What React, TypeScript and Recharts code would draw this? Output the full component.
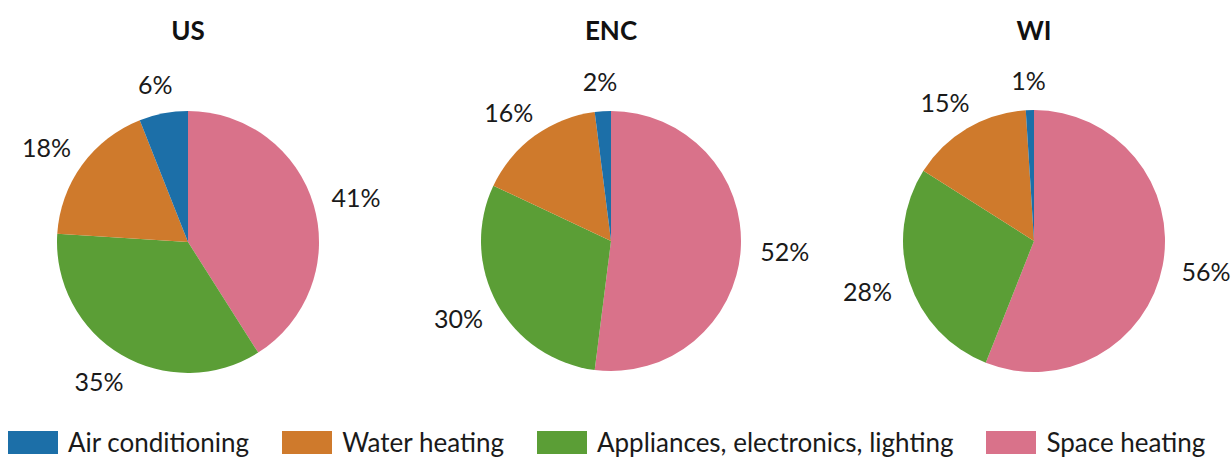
import { PieChart, Pie, Cell, Legend } from 'recharts';

// ─── Data ────────────────────────────────────────────────────────────────────

const CATEGORIES = ['Space heating', 'Appliances, electronics, lighting', 'Water heating', 'Air conditioning'];
const LEGEND_ORDER = ['Air conditioning', 'Water heating', 'Appliances, electronics, lighting', 'Space heating'];

const US_SHARE = [41, 35, 18, 6];
const ENC_SHARE = [52, 30, 16, 2];
const WI_SHARE = [56, 28, 15, 1];

const REGIONS = ['US', 'ENC', 'WI'];

const COLORS: Record<string, string> = {
  'Space heating': '#d9728a',
  'Appliances, electronics, lighting': '#5b9e36',
  'Water heating': '#cf7a2c',
  'Air conditioning': '#1c6fa8',
};

const FONT = 'Lato, "Open Sans", sans-serif';

const toRows = (shares: number[]) => CATEGORIES.map((name, i) => ({ name, value: shares[i] }));

// ─── Layout ──────────────────────────────────────────────────────────────────

const WIDTH = 1232;
const HEIGHT = 459;
const PIES = [
  { title: REGIONS[0], data: toRows(US_SHARE), cx: 188, cy: 242, r: 131 },
  { title: REGIONS[1], data: toRows(ENC_SHARE), cx: 611, cy: 241, r: 130 },
  { title: REGIONS[2], data: toRows(WI_SHARE), cx: 1034, cy: 241, r: 131 },
];

const RAD = Math.PI / 180;

// percent label pushed outward so its box sits just outside the slice
function renderPercent(props: any) {
  const { cx, cy, midAngle, outerRadius, value } = props;
  const dx = Math.cos(-midAngle * RAD);
  const dy = Math.sin(-midAngle * RAD);
  const px = cx + (outerRadius + 17) * dx;
  const py = cy + (outerRadius + 17) * dy;
  const w = 54;
  const h = 26;
  return (
    <text
      x={px + (dx * w) / 2}
      y={py + (dy * h) / 2}
      textAnchor="middle"
      dominantBaseline="central"
      fontFamily={FONT}
      fontSize={25}
      fill="#1a1a1a"
    >
      {`${value}%`}
    </text>
  );
}

function LegendRow() {
  return (
    <div
      style={{
        display: 'flex',
        alignItems: 'center',
        gap: 33,
        paddingLeft: 8,
        fontFamily: FONT,
        fontSize: 26,
        color: '#1a1a1a',
      }}
    >
      {LEGEND_ORDER.map((name) => (
        <div key={name} style={{ display: 'flex', alignItems: 'center', gap: 10 }}>
          <span style={{ width: 50, height: 23, background: COLORS[name], display: 'inline-block' }} />
          <span>{name}</span>
        </div>
      ))}
    </div>
  );
}

export default function App() {
  return (
    <div style={{ position: 'absolute', left: 0, top: 0, width: WIDTH, height: HEIGHT, background: '#fff' }}>
      <PieChart width={WIDTH} height={HEIGHT} margin={{ top: 0, right: 0, bottom: 0, left: 0 }}>
        {PIES.map((p) => (
          <text
            key={`t-${p.title}`}
            x={p.cx}
            y={30}
            textAnchor="middle"
            dominantBaseline="central"
            fontFamily={FONT}
            fontWeight={700}
            fontSize={26}
            fill="#111"
          >
            {p.title}
          </text>
        ))}
        {PIES.map((p) => (
          <Pie
            key={p.title}
            data={p.data}
            dataKey="value"
            nameKey="name"
            cx={p.cx}
            cy={p.cy}
            outerRadius={p.r}
            startAngle={90}
            endAngle={-270}
            stroke="none"
            label={renderPercent}
            labelLine={false}
            isAnimationActive={false}
          >
            {p.data.map((d) => (
              <Cell key={d.name} fill={COLORS[d.name]} />
            ))}
          </Pie>
        ))}
        <Legend
          content={() => <LegendRow />}
          wrapperStyle={{ position: 'absolute', left: 0, top: 426, width: WIDTH }}
        />
      </PieChart>
    </div>
  );
}
